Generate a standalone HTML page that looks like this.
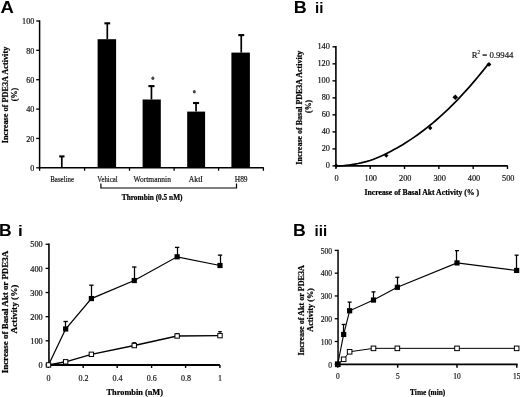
<!DOCTYPE html>
<html><head><meta charset="utf-8"><style>
html,body{margin:0;padding:0;background:#fff;}
body{width:520px;height:397px;overflow:hidden;font-family:"Liberation Serif",serif;}
svg{display:block;filter:grayscale(1);}
text{-webkit-font-smoothing:antialiased;}
</style></head><body>
<svg width="520" height="397" viewBox="0 0 520 397">
<rect width="520" height="397" fill="#fff"/>
<text x="0.64" y="12.60" font-family="Liberation Sans" font-size="17.4" font-weight="bold" fill="#000" textLength="13.37" lengthAdjust="spacingAndGlyphs">A</text>
<line x1="39.60" y1="20.30" x2="39.60" y2="168.55" stroke="#000" stroke-width="1.5"/>
<line x1="38.85" y1="167.80" x2="263.80" y2="167.80" stroke="#000" stroke-width="1.5"/>
<line x1="36.20" y1="167.80" x2="39.60" y2="167.80" stroke="#000" stroke-width="1.3"/>
<text x="30.26" y="171.10" font-family="Liberation Serif" font-size="7.4" font-weight="normal" fill="#111" stroke="#111" stroke-width="0.18" textLength="4.07" lengthAdjust="spacingAndGlyphs">0</text>
<line x1="36.20" y1="138.44" x2="39.60" y2="138.44" stroke="#000" stroke-width="1.3"/>
<text x="26.19" y="141.74" font-family="Liberation Serif" font-size="7.4" font-weight="normal" fill="#111" stroke="#111" stroke-width="0.18" textLength="8.14" lengthAdjust="spacingAndGlyphs">20</text>
<line x1="36.20" y1="109.08" x2="39.60" y2="109.08" stroke="#000" stroke-width="1.3"/>
<text x="26.19" y="112.38" font-family="Liberation Serif" font-size="7.4" font-weight="normal" fill="#111" stroke="#111" stroke-width="0.18" textLength="8.14" lengthAdjust="spacingAndGlyphs">40</text>
<line x1="36.20" y1="79.72" x2="39.60" y2="79.72" stroke="#000" stroke-width="1.3"/>
<text x="26.19" y="83.02" font-family="Liberation Serif" font-size="7.4" font-weight="normal" fill="#111" stroke="#111" stroke-width="0.18" textLength="8.14" lengthAdjust="spacingAndGlyphs">60</text>
<line x1="36.20" y1="50.36" x2="39.60" y2="50.36" stroke="#000" stroke-width="1.3"/>
<text x="26.19" y="53.66" font-family="Liberation Serif" font-size="7.4" font-weight="normal" fill="#111" stroke="#111" stroke-width="0.18" textLength="8.14" lengthAdjust="spacingAndGlyphs">80</text>
<line x1="36.20" y1="21.00" x2="39.60" y2="21.00" stroke="#000" stroke-width="1.3"/>
<text x="22.12" y="24.30" font-family="Liberation Serif" font-size="7.4" font-weight="normal" fill="#111" stroke="#111" stroke-width="0.18" textLength="12.21" lengthAdjust="spacingAndGlyphs">100</text>
<line x1="39.60" y1="167.80" x2="39.60" y2="170.80" stroke="#000" stroke-width="1.3"/>
<line x1="84.60" y1="167.80" x2="84.60" y2="170.80" stroke="#000" stroke-width="1.3"/>
<line x1="129.50" y1="167.80" x2="129.50" y2="170.80" stroke="#000" stroke-width="1.3"/>
<line x1="174.10" y1="167.80" x2="174.10" y2="170.80" stroke="#000" stroke-width="1.3"/>
<line x1="218.60" y1="167.80" x2="218.60" y2="170.80" stroke="#000" stroke-width="1.3"/>
<line x1="263.40" y1="167.80" x2="263.40" y2="170.80" stroke="#000" stroke-width="1.3"/>
<rect x="97.60" y="39.20" width="18.50" height="128.60" fill="#000"/>
<line x1="107.30" y1="39.20" x2="107.30" y2="23.30" stroke="#000" stroke-width="1.7"/>
<line x1="104.40" y1="23.30" x2="110.20" y2="23.30" stroke="#000" stroke-width="2.1"/>
<rect x="142.60" y="99.50" width="18.20" height="68.30" fill="#000"/>
<line x1="151.45" y1="99.50" x2="151.45" y2="86.10" stroke="#000" stroke-width="1.7"/>
<line x1="148.40" y1="86.10" x2="154.50" y2="86.10" stroke="#000" stroke-width="2.1"/>
<rect x="187.20" y="111.60" width="17.90" height="56.20" fill="#000"/>
<line x1="196.05" y1="111.60" x2="196.05" y2="103.00" stroke="#000" stroke-width="1.7"/>
<line x1="193.00" y1="103.00" x2="199.10" y2="103.00" stroke="#000" stroke-width="2.1"/>
<rect x="231.40" y="52.60" width="18.50" height="115.20" fill="#000"/>
<line x1="241.25" y1="52.60" x2="241.25" y2="35.10" stroke="#000" stroke-width="1.7"/>
<line x1="238.30" y1="35.10" x2="244.20" y2="35.10" stroke="#000" stroke-width="2.1"/>
<line x1="61.80" y1="167.80" x2="61.80" y2="156.40" stroke="#000" stroke-width="1.7"/>
<line x1="59.20" y1="156.40" x2="64.50" y2="156.40" stroke="#000" stroke-width="2.1"/>
<ellipse cx="152.85" cy="78.2" rx="1.5" ry="1.7" fill="#444"/>
<ellipse cx="194.3" cy="91.7" rx="1.5" ry="1.7" fill="#444"/>
<text x="50.19" y="181.80" font-family="Liberation Serif" font-size="7.8" font-weight="normal" fill="#111" stroke="#111" stroke-width="0.18" textLength="23.94" lengthAdjust="spacingAndGlyphs">Baseline</text>
<text x="97.23" y="181.80" font-family="Liberation Serif" font-size="7.8" font-weight="normal" fill="#111" stroke="#111" stroke-width="0.18" textLength="20.49" lengthAdjust="spacingAndGlyphs">Vehical</text>
<text x="133.50" y="181.80" font-family="Liberation Serif" font-size="7.8" font-weight="normal" fill="#111" stroke="#111" stroke-width="0.18" textLength="37.41" lengthAdjust="spacingAndGlyphs">Wortmannin</text>
<text x="188.72" y="181.80" font-family="Liberation Serif" font-size="7.8" font-weight="normal" fill="#111" stroke="#111" stroke-width="0.18" textLength="14.23" lengthAdjust="spacingAndGlyphs">AktI</text>
<text x="234.78" y="181.80" font-family="Liberation Serif" font-size="7.8" font-weight="normal" fill="#111" stroke="#111" stroke-width="0.18" textLength="12.84" lengthAdjust="spacingAndGlyphs">H89</text>
<polyline points="100.9,183.4 100.9,188.0 236.5,188.0 236.5,183.4" fill="none" stroke="#000" stroke-width="1.2"/>
<text x="121.79" y="199.50" font-family="Liberation Serif" font-size="7.4" font-weight="bold" fill="#000" stroke="#000" stroke-width="0.22" textLength="60.73" lengthAdjust="spacingAndGlyphs">Thrombin (0.5 nM)</text>
<text x="0" y="0" transform="translate(7.60,143.29) rotate(-90)" font-family="Liberation Serif" font-size="7.9" font-weight="bold" fill="#000" stroke="#000" stroke-width="0.22" textLength="96.57" lengthAdjust="spacingAndGlyphs">Increase of PDE3A Activity</text>
<text x="0" y="0" transform="translate(17.30,101.16) rotate(-90)" font-family="Liberation Serif" font-size="7.9" font-weight="bold" fill="#000" stroke="#000" stroke-width="0.22" textLength="13.18" lengthAdjust="spacingAndGlyphs">(%)</text>
<text x="293.83" y="12.70" font-family="Liberation Sans" font-size="17.2" font-weight="bold" fill="#000" textLength="13.02" lengthAdjust="spacingAndGlyphs">B</text>
<text x="314.94" y="12.70" font-family="Liberation Sans" font-size="13.8" font-weight="bold" fill="#000" textLength="8.43" lengthAdjust="spacingAndGlyphs">ii</text>
<line x1="335.90" y1="45.90" x2="335.90" y2="166.80" stroke="#000" stroke-width="1.6"/>
<line x1="335.00" y1="165.90" x2="507.80" y2="165.90" stroke="#000" stroke-width="1.9"/>
<line x1="332.50" y1="165.90" x2="335.90" y2="165.90" stroke="#000" stroke-width="1.4"/>
<text x="325.78" y="168.30" font-family="Liberation Serif" font-size="8.3" font-weight="normal" fill="#111" stroke="#111" stroke-width="0.18" textLength="4.15" lengthAdjust="spacingAndGlyphs">0</text>
<line x1="332.50" y1="148.89" x2="335.90" y2="148.89" stroke="#000" stroke-width="1.4"/>
<text x="321.63" y="151.29" font-family="Liberation Serif" font-size="8.3" font-weight="normal" fill="#111" stroke="#111" stroke-width="0.18" textLength="8.30" lengthAdjust="spacingAndGlyphs">20</text>
<line x1="332.50" y1="131.88" x2="335.90" y2="131.88" stroke="#000" stroke-width="1.4"/>
<text x="321.63" y="134.28" font-family="Liberation Serif" font-size="8.3" font-weight="normal" fill="#111" stroke="#111" stroke-width="0.18" textLength="8.30" lengthAdjust="spacingAndGlyphs">40</text>
<line x1="332.50" y1="114.87" x2="335.90" y2="114.87" stroke="#000" stroke-width="1.4"/>
<text x="321.63" y="117.27" font-family="Liberation Serif" font-size="8.3" font-weight="normal" fill="#111" stroke="#111" stroke-width="0.18" textLength="8.30" lengthAdjust="spacingAndGlyphs">60</text>
<line x1="332.50" y1="97.86" x2="335.90" y2="97.86" stroke="#000" stroke-width="1.4"/>
<text x="321.63" y="100.26" font-family="Liberation Serif" font-size="8.3" font-weight="normal" fill="#111" stroke="#111" stroke-width="0.18" textLength="8.30" lengthAdjust="spacingAndGlyphs">80</text>
<line x1="332.50" y1="80.85" x2="335.90" y2="80.85" stroke="#000" stroke-width="1.4"/>
<text x="317.48" y="83.25" font-family="Liberation Serif" font-size="8.3" font-weight="normal" fill="#111" stroke="#111" stroke-width="0.18" textLength="12.45" lengthAdjust="spacingAndGlyphs">100</text>
<line x1="332.50" y1="63.84" x2="335.90" y2="63.84" stroke="#000" stroke-width="1.4"/>
<text x="317.48" y="66.24" font-family="Liberation Serif" font-size="8.3" font-weight="normal" fill="#111" stroke="#111" stroke-width="0.18" textLength="12.45" lengthAdjust="spacingAndGlyphs">120</text>
<line x1="332.50" y1="46.83" x2="335.90" y2="46.83" stroke="#000" stroke-width="1.4"/>
<text x="317.48" y="49.23" font-family="Liberation Serif" font-size="8.3" font-weight="normal" fill="#111" stroke="#111" stroke-width="0.18" textLength="12.45" lengthAdjust="spacingAndGlyphs">140</text>
<line x1="335.90" y1="165.90" x2="335.90" y2="169.00" stroke="#000" stroke-width="1.4"/>
<text x="334.62" y="180.90" font-family="Liberation Serif" font-size="8.3" font-weight="normal" fill="#111" stroke="#111" stroke-width="0.18" textLength="4.15" lengthAdjust="spacingAndGlyphs">0</text>
<line x1="370.22" y1="165.90" x2="370.22" y2="169.00" stroke="#000" stroke-width="1.4"/>
<text x="364.59" y="180.90" font-family="Liberation Serif" font-size="8.3" font-weight="normal" fill="#111" stroke="#111" stroke-width="0.18" textLength="12.45" lengthAdjust="spacingAndGlyphs">100</text>
<line x1="404.54" y1="165.90" x2="404.54" y2="169.00" stroke="#000" stroke-width="1.4"/>
<text x="399.09" y="180.90" font-family="Liberation Serif" font-size="8.3" font-weight="normal" fill="#111" stroke="#111" stroke-width="0.18" textLength="12.45" lengthAdjust="spacingAndGlyphs">200</text>
<line x1="438.86" y1="165.90" x2="438.86" y2="169.00" stroke="#000" stroke-width="1.4"/>
<text x="433.39" y="180.90" font-family="Liberation Serif" font-size="8.3" font-weight="normal" fill="#111" stroke="#111" stroke-width="0.18" textLength="12.45" lengthAdjust="spacingAndGlyphs">300</text>
<line x1="473.18" y1="165.90" x2="473.18" y2="169.00" stroke="#000" stroke-width="1.4"/>
<text x="467.84" y="180.90" font-family="Liberation Serif" font-size="8.3" font-weight="normal" fill="#111" stroke="#111" stroke-width="0.18" textLength="12.45" lengthAdjust="spacingAndGlyphs">400</text>
<line x1="507.50" y1="165.90" x2="507.50" y2="169.00" stroke="#000" stroke-width="1.4"/>
<text x="501.99" y="180.90" font-family="Liberation Serif" font-size="8.3" font-weight="normal" fill="#111" stroke="#111" stroke-width="0.18" textLength="12.45" lengthAdjust="spacingAndGlyphs">500</text>
<polyline points="335.90,165.90 343.00,165.76 346.00,165.42 349.00,165.03 352.00,164.58 355.00,164.08 358.00,163.53 361.00,162.90 364.00,162.19 367.00,161.39 370.00,160.48 373.00,159.46 376.00,158.32 379.00,157.07 382.00,155.72 385.00,154.29 388.00,152.78 391.00,151.22 394.00,149.59 397.00,147.92 400.00,146.19 403.00,144.40 406.00,142.55 409.00,140.64 412.00,138.66 415.00,136.61 418.00,134.49 421.00,132.29 424.00,130.02 427.00,127.69 430.00,125.27 433.00,122.79 436.00,120.23 439.00,117.60 442.00,114.90 445.00,112.13 448.00,109.28 451.00,106.36 454.00,103.37 457.00,100.30 460.00,97.16 463.00,93.95 466.00,90.67 469.00,87.31 472.00,83.88 475.00,80.38 478.00,76.80 481.00,73.16 484.00,69.44 487.00,65.64 488.80,63.33" fill="none" stroke="#000" stroke-width="1.7" stroke-linejoin="round"/>
<polygon points="336.30,163.50 338.50,165.70 336.30,167.90 334.10,165.70" fill="#000"/>
<polygon points="386.30,153.40 388.50,155.60 386.30,157.80 384.10,155.60" fill="#000"/>
<polygon points="430.20,125.80 432.40,128.00 430.20,130.20 428.00,128.00" fill="#000"/>
<polygon points="455.30,94.50 458.10,97.30 455.30,100.10 452.50,97.30" fill="#000"/>
<polygon points="489.00,62.00 491.40,64.40 489.00,66.80 486.60,64.40" fill="#000"/>
<text x="471.65" y="57.90" font-family="Liberation Serif" font-size="9.0" font-weight="normal" fill="#111" stroke="#111" stroke-width="0.18" textLength="41.79" lengthAdjust="spacingAndGlyphs">R<tspan dy="-3.8" font-size="5.4">2</tspan><tspan dy="3.8"> = 0.9944</tspan></text>
<text x="364.43" y="195.30" font-family="Liberation Serif" font-size="7.9" font-weight="bold" fill="#000" stroke="#000" stroke-width="0.22" textLength="114.71" lengthAdjust="spacingAndGlyphs">Increase of Basal Akt Activity (% )</text>
<text x="0" y="0" transform="translate(302.00,164.68) rotate(-90)" font-family="Liberation Serif" font-size="7.9" font-weight="bold" fill="#000" stroke="#000" stroke-width="0.22" textLength="114.05" lengthAdjust="spacingAndGlyphs">Increase of Basal PDE3A Activity</text>
<text x="0" y="0" transform="translate(310.80,112.95) rotate(-90)" font-family="Liberation Serif" font-size="7.9" font-weight="bold" fill="#000" stroke="#000" stroke-width="0.22" textLength="13.08" lengthAdjust="spacingAndGlyphs">(%)</text>
<text x="-1.14" y="235.90" font-family="Liberation Sans" font-size="17.2" font-weight="bold" fill="#000" textLength="12.67" lengthAdjust="spacingAndGlyphs">B</text>
<text x="18.01" y="236.20" font-family="Liberation Sans" font-size="13.8" font-weight="bold" fill="#000" textLength="4.73" lengthAdjust="spacingAndGlyphs">i</text>
<line x1="48.95" y1="243.40" x2="48.95" y2="365.85" stroke="#000" stroke-width="1.6"/>
<line x1="47.90" y1="364.95" x2="219.90" y2="364.95" stroke="#000" stroke-width="1.9"/>
<line x1="45.60" y1="364.95" x2="48.95" y2="364.95" stroke="#000" stroke-width="1.3"/>
<text x="38.59" y="368.15" font-family="Liberation Serif" font-size="7.4" font-weight="normal" fill="#111" stroke="#111" stroke-width="0.18" textLength="4.14" lengthAdjust="spacingAndGlyphs">0</text>
<line x1="45.60" y1="340.81" x2="48.95" y2="340.81" stroke="#000" stroke-width="1.3"/>
<text x="30.30" y="344.01" font-family="Liberation Serif" font-size="7.4" font-weight="normal" fill="#111" stroke="#111" stroke-width="0.18" textLength="12.43" lengthAdjust="spacingAndGlyphs">100</text>
<line x1="45.60" y1="316.67" x2="48.95" y2="316.67" stroke="#000" stroke-width="1.3"/>
<text x="30.30" y="319.87" font-family="Liberation Serif" font-size="7.4" font-weight="normal" fill="#111" stroke="#111" stroke-width="0.18" textLength="12.43" lengthAdjust="spacingAndGlyphs">200</text>
<line x1="45.60" y1="292.53" x2="48.95" y2="292.53" stroke="#000" stroke-width="1.3"/>
<text x="30.30" y="295.73" font-family="Liberation Serif" font-size="7.4" font-weight="normal" fill="#111" stroke="#111" stroke-width="0.18" textLength="12.43" lengthAdjust="spacingAndGlyphs">300</text>
<line x1="45.60" y1="268.39" x2="48.95" y2="268.39" stroke="#000" stroke-width="1.3"/>
<text x="30.30" y="271.59" font-family="Liberation Serif" font-size="7.4" font-weight="normal" fill="#111" stroke="#111" stroke-width="0.18" textLength="12.43" lengthAdjust="spacingAndGlyphs">400</text>
<line x1="45.60" y1="244.25" x2="48.95" y2="244.25" stroke="#000" stroke-width="1.3"/>
<text x="30.30" y="247.45" font-family="Liberation Serif" font-size="7.4" font-weight="normal" fill="#111" stroke="#111" stroke-width="0.18" textLength="12.43" lengthAdjust="spacingAndGlyphs">500</text>
<line x1="48.30" y1="364.95" x2="48.30" y2="367.95" stroke="#000" stroke-width="1.4"/>
<text x="46.60" y="380.70" font-family="Liberation Serif" font-size="8.0" font-weight="normal" fill="#111" stroke="#111" stroke-width="0.18" textLength="4.00" lengthAdjust="spacingAndGlyphs">0</text>
<line x1="83.20" y1="364.95" x2="83.20" y2="367.95" stroke="#000" stroke-width="1.4"/>
<text x="78.56" y="380.70" font-family="Liberation Serif" font-size="8.0" font-weight="normal" fill="#111" stroke="#111" stroke-width="0.18" textLength="10.00" lengthAdjust="spacingAndGlyphs">0.2</text>
<line x1="117.20" y1="364.95" x2="117.20" y2="367.95" stroke="#000" stroke-width="1.4"/>
<text x="112.40" y="380.70" font-family="Liberation Serif" font-size="8.0" font-weight="normal" fill="#111" stroke="#111" stroke-width="0.18" textLength="10.00" lengthAdjust="spacingAndGlyphs">0.4</text>
<line x1="151.60" y1="364.95" x2="151.60" y2="367.95" stroke="#000" stroke-width="1.4"/>
<text x="146.86" y="380.70" font-family="Liberation Serif" font-size="8.0" font-weight="normal" fill="#111" stroke="#111" stroke-width="0.18" textLength="10.00" lengthAdjust="spacingAndGlyphs">0.6</text>
<line x1="185.60" y1="364.95" x2="185.60" y2="367.95" stroke="#000" stroke-width="1.4"/>
<text x="180.90" y="380.70" font-family="Liberation Serif" font-size="8.0" font-weight="normal" fill="#111" stroke="#111" stroke-width="0.18" textLength="10.00" lengthAdjust="spacingAndGlyphs">0.8</text>
<line x1="219.90" y1="364.95" x2="219.90" y2="367.95" stroke="#000" stroke-width="1.4"/>
<text x="218.08" y="380.70" font-family="Liberation Serif" font-size="8.0" font-weight="normal" fill="#111" stroke="#111" stroke-width="0.18" textLength="4.00" lengthAdjust="spacingAndGlyphs">1</text>
<text x="106.58" y="394.60" font-family="Liberation Serif" font-size="8.0" font-weight="bold" fill="#000" stroke="#000" stroke-width="0.22" textLength="56.38" lengthAdjust="spacingAndGlyphs">Thrombin (nM)</text>
<text x="0" y="0" transform="translate(8.30,373.31) rotate(-90)" font-family="Liberation Serif" font-size="8.6" font-weight="bold" fill="#000" stroke="#000" stroke-width="0.22" textLength="122.48" lengthAdjust="spacingAndGlyphs">Increase of Basal Akt or PDE3A</text>
<text x="0" y="0" transform="translate(17.30,333.39) rotate(-90)" font-family="Liberation Serif" font-size="8.6" font-weight="bold" fill="#000" stroke="#000" stroke-width="0.22" textLength="48.80" lengthAdjust="spacingAndGlyphs">Activity (%)</text>
<line x1="65.50" y1="328.98" x2="65.50" y2="321.50" stroke="#000" stroke-width="1.25"/>
<line x1="63.45" y1="321.50" x2="67.85" y2="321.50" stroke="#000" stroke-width="1.3"/>
<line x1="91.50" y1="298.56" x2="91.50" y2="285.19" stroke="#000" stroke-width="1.25"/>
<line x1="89.17" y1="285.19" x2="93.58" y2="285.19" stroke="#000" stroke-width="1.3"/>
<line x1="134.50" y1="280.53" x2="134.50" y2="266.99" stroke="#000" stroke-width="1.25"/>
<line x1="132.05" y1="266.99" x2="136.45" y2="266.99" stroke="#000" stroke-width="1.3"/>
<line x1="177.50" y1="256.80" x2="177.50" y2="247.39" stroke="#000" stroke-width="1.25"/>
<line x1="174.93" y1="247.39" x2="179.32" y2="247.39" stroke="#000" stroke-width="1.3"/>
<line x1="220.50" y1="265.49" x2="220.50" y2="255.11" stroke="#000" stroke-width="1.25"/>
<line x1="217.80" y1="255.11" x2="222.20" y2="255.11" stroke="#000" stroke-width="1.3"/>
<polyline points="48.50,364.95 65.65,328.98 91.38,298.56 134.25,280.53 177.12,256.80 220.00,265.49" fill="none" stroke="#000" stroke-width="1.25"/>
<polyline points="48.50,364.95 65.65,361.81 91.38,354.33 134.25,345.52 177.12,335.98 220.00,335.62" fill="none" stroke="#000" stroke-width="1.4"/>
<rect x="63.05" y="326.38" width="5.20" height="5.20" fill="#000"/>
<rect x="88.78" y="295.96" width="5.20" height="5.20" fill="#000"/>
<rect x="131.65" y="277.93" width="5.20" height="5.20" fill="#000"/>
<rect x="174.53" y="254.20" width="5.20" height="5.20" fill="#000"/>
<rect x="217.40" y="262.89" width="5.20" height="5.20" fill="#000"/>
<line x1="134.25" y1="343.52" x2="134.25" y2="342.74" stroke="#000" stroke-width="1.0"/>
<line x1="132.45" y1="342.74" x2="136.05" y2="342.74" stroke="#000" stroke-width="1.2"/>
<line x1="177.12" y1="333.98" x2="177.12" y2="333.57" stroke="#000" stroke-width="1.0"/>
<line x1="175.32" y1="333.57" x2="178.93" y2="333.57" stroke="#000" stroke-width="1.2"/>
<line x1="220.00" y1="333.62" x2="220.00" y2="331.64" stroke="#000" stroke-width="1.0"/>
<line x1="218.20" y1="331.64" x2="221.80" y2="331.64" stroke="#000" stroke-width="1.2"/>
<rect x="46.30" y="362.75" width="4.40" height="4.40" fill="#fff" stroke="#000" stroke-width="1.0"/>
<rect x="63.45" y="359.61" width="4.40" height="4.40" fill="#fff" stroke="#000" stroke-width="1.0"/>
<rect x="89.17" y="352.13" width="4.40" height="4.40" fill="#fff" stroke="#000" stroke-width="1.0"/>
<rect x="132.05" y="343.32" width="4.40" height="4.40" fill="#fff" stroke="#000" stroke-width="1.0"/>
<rect x="174.93" y="333.78" width="4.40" height="4.40" fill="#fff" stroke="#000" stroke-width="1.0"/>
<rect x="217.80" y="333.42" width="4.40" height="4.40" fill="#fff" stroke="#000" stroke-width="1.0"/>
<text x="293.05" y="236.20" font-family="Liberation Sans" font-size="17.2" font-weight="bold" fill="#000" textLength="12.79" lengthAdjust="spacingAndGlyphs">B</text>
<text x="314.54" y="236.30" font-family="Liberation Sans" font-size="13.8" font-weight="bold" fill="#000" textLength="12.56" lengthAdjust="spacingAndGlyphs">iii</text>
<line x1="338.05" y1="249.80" x2="338.05" y2="365.20" stroke="#000" stroke-width="1.5"/>
<line x1="337.10" y1="364.30" x2="517.60" y2="364.30" stroke="#000" stroke-width="1.7"/>
<line x1="334.70" y1="364.30" x2="338.05" y2="364.30" stroke="#000" stroke-width="1.3"/>
<text x="328.30" y="367.50" font-family="Liberation Serif" font-size="7.6" font-weight="normal" fill="#111" stroke="#111" stroke-width="0.18" textLength="3.80" lengthAdjust="spacingAndGlyphs">0</text>
<line x1="334.70" y1="341.52" x2="338.05" y2="341.52" stroke="#000" stroke-width="1.3"/>
<text x="320.70" y="344.72" font-family="Liberation Serif" font-size="7.6" font-weight="normal" fill="#111" stroke="#111" stroke-width="0.18" textLength="11.40" lengthAdjust="spacingAndGlyphs">100</text>
<line x1="334.70" y1="318.74" x2="338.05" y2="318.74" stroke="#000" stroke-width="1.3"/>
<text x="320.70" y="321.94" font-family="Liberation Serif" font-size="7.6" font-weight="normal" fill="#111" stroke="#111" stroke-width="0.18" textLength="11.40" lengthAdjust="spacingAndGlyphs">200</text>
<line x1="334.70" y1="295.96" x2="338.05" y2="295.96" stroke="#000" stroke-width="1.3"/>
<text x="320.70" y="299.16" font-family="Liberation Serif" font-size="7.6" font-weight="normal" fill="#111" stroke="#111" stroke-width="0.18" textLength="11.40" lengthAdjust="spacingAndGlyphs">300</text>
<line x1="334.70" y1="273.18" x2="338.05" y2="273.18" stroke="#000" stroke-width="1.3"/>
<text x="320.70" y="276.38" font-family="Liberation Serif" font-size="7.6" font-weight="normal" fill="#111" stroke="#111" stroke-width="0.18" textLength="11.40" lengthAdjust="spacingAndGlyphs">400</text>
<line x1="334.70" y1="250.40" x2="338.05" y2="250.40" stroke="#000" stroke-width="1.3"/>
<text x="320.70" y="253.60" font-family="Liberation Serif" font-size="7.6" font-weight="normal" fill="#111" stroke="#111" stroke-width="0.18" textLength="11.40" lengthAdjust="spacingAndGlyphs">500</text>
<line x1="337.70" y1="364.30" x2="337.70" y2="367.70" stroke="#000" stroke-width="1.5"/>
<text x="336.05" y="379.30" font-family="Liberation Serif" font-size="7.4" font-weight="normal" fill="#111" stroke="#111" stroke-width="0.18" textLength="3.70" lengthAdjust="spacingAndGlyphs">0</text>
<line x1="397.70" y1="364.30" x2="397.70" y2="367.70" stroke="#000" stroke-width="1.5"/>
<text x="395.98" y="379.30" font-family="Liberation Serif" font-size="7.4" font-weight="normal" fill="#111" stroke="#111" stroke-width="0.18" textLength="3.70" lengthAdjust="spacingAndGlyphs">5</text>
<line x1="457.00" y1="364.30" x2="457.00" y2="367.70" stroke="#000" stroke-width="1.5"/>
<text x="453.31" y="379.30" font-family="Liberation Serif" font-size="7.4" font-weight="normal" fill="#111" stroke="#111" stroke-width="0.18" textLength="7.40" lengthAdjust="spacingAndGlyphs">10</text>
<line x1="516.80" y1="364.30" x2="516.80" y2="367.70" stroke="#000" stroke-width="1.5"/>
<text x="513.11" y="379.30" font-family="Liberation Serif" font-size="7.4" font-weight="normal" fill="#111" stroke="#111" stroke-width="0.18" textLength="7.40" lengthAdjust="spacingAndGlyphs">15</text>
<text x="410.09" y="394.80" font-family="Liberation Serif" font-size="8.2" font-weight="bold" fill="#000" stroke="#000" stroke-width="0.22" textLength="35.22" lengthAdjust="spacingAndGlyphs">Time (min)</text>
<text x="0" y="0" transform="translate(303.80,355.48) rotate(-90)" font-family="Liberation Serif" font-size="8.4" font-weight="bold" fill="#000" stroke="#000" stroke-width="0.22" textLength="90.46" lengthAdjust="spacingAndGlyphs">Increase of Akt or PDE3A</text>
<text x="0" y="0" transform="translate(312.60,331.78) rotate(-90)" font-family="Liberation Serif" font-size="8.4" font-weight="bold" fill="#000" stroke="#000" stroke-width="0.22" textLength="43.64" lengthAdjust="spacingAndGlyphs">Activity (%)</text>
<polyline points="337.70,364.30 343.66,359.29 349.63,351.77 373.49,348.35 397.35,348.35 457.00,348.35 516.65,348.35" fill="none" stroke="#000" stroke-width="1.0"/>
<line x1="371.59" y1="346.99" x2="375.39" y2="346.99" stroke="#000" stroke-width="1.2"/>
<line x1="395.45" y1="346.99" x2="399.25" y2="346.99" stroke="#000" stroke-width="1.2"/>
<line x1="455.10" y1="346.76" x2="458.90" y2="346.76" stroke="#000" stroke-width="1.2"/>
<line x1="514.75" y1="346.76" x2="518.55" y2="346.76" stroke="#000" stroke-width="1.2"/>
<rect x="335.40" y="362.00" width="4.60" height="4.60" fill="#fff" stroke="#000" stroke-width="1.0"/>
<rect x="341.36" y="356.99" width="4.60" height="4.60" fill="#fff" stroke="#000" stroke-width="1.0"/>
<rect x="347.33" y="349.47" width="4.60" height="4.60" fill="#fff" stroke="#000" stroke-width="1.0"/>
<rect x="371.19" y="346.05" width="4.60" height="4.60" fill="#fff" stroke="#000" stroke-width="1.0"/>
<rect x="395.05" y="346.05" width="4.60" height="4.60" fill="#fff" stroke="#000" stroke-width="1.0"/>
<rect x="454.70" y="346.05" width="4.60" height="4.60" fill="#fff" stroke="#000" stroke-width="1.0"/>
<rect x="514.35" y="346.05" width="4.60" height="4.60" fill="#fff" stroke="#000" stroke-width="1.0"/>
<line x1="343.50" y1="334.46" x2="343.50" y2="324.44" stroke="#000" stroke-width="1.25"/>
<line x1="341.66" y1="324.44" x2="345.66" y2="324.44" stroke="#000" stroke-width="1.3"/>
<line x1="349.50" y1="310.77" x2="349.50" y2="302.11" stroke="#000" stroke-width="1.25"/>
<line x1="347.63" y1="302.11" x2="351.63" y2="302.11" stroke="#000" stroke-width="1.3"/>
<line x1="373.50" y1="300.06" x2="373.50" y2="291.86" stroke="#000" stroke-width="1.25"/>
<line x1="371.49" y1="291.86" x2="375.49" y2="291.86" stroke="#000" stroke-width="1.3"/>
<line x1="397.50" y1="287.30" x2="397.50" y2="277.28" stroke="#000" stroke-width="1.25"/>
<line x1="395.35" y1="277.28" x2="399.35" y2="277.28" stroke="#000" stroke-width="1.3"/>
<line x1="456.50" y1="262.93" x2="456.50" y2="250.63" stroke="#000" stroke-width="1.25"/>
<line x1="455.00" y1="250.63" x2="459.00" y2="250.63" stroke="#000" stroke-width="1.3"/>
<line x1="516.50" y1="270.45" x2="516.50" y2="255.18" stroke="#000" stroke-width="1.25"/>
<line x1="514.65" y1="255.18" x2="518.65" y2="255.18" stroke="#000" stroke-width="1.3"/>
<polyline points="337.70,364.30 343.66,334.46 349.63,310.77 373.49,300.06 397.35,287.30 457.00,262.93 516.65,270.45" fill="none" stroke="#000" stroke-width="1.1"/>
<rect x="335.10" y="361.70" width="5.20" height="5.20" fill="#000"/>
<rect x="341.06" y="331.86" width="5.20" height="5.20" fill="#000"/>
<rect x="347.03" y="308.17" width="5.20" height="5.20" fill="#000"/>
<rect x="370.89" y="297.46" width="5.20" height="5.20" fill="#000"/>
<rect x="394.75" y="284.70" width="5.20" height="5.20" fill="#000"/>
<rect x="454.40" y="260.33" width="5.20" height="5.20" fill="#000"/>
<rect x="514.05" y="267.85" width="5.20" height="5.20" fill="#000"/>
</svg>
</body></html>
